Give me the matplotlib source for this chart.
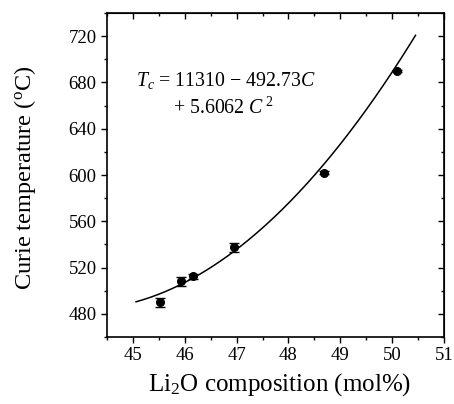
import numpy as np
import matplotlib
matplotlib.use('Agg')
import matplotlib.pyplot as plt
from matplotlib.ticker import MultipleLocator

plt.rcParams['font.family'] = 'Liberation Serif'
plt.rcParams['mathtext.fontset'] = 'custom'
plt.rcParams['mathtext.rm'] = 'Liberation Serif'
plt.rcParams['mathtext.it'] = 'Liberation Serif:italic'

# dados medidos
composicao = [45.52, 45.92, 46.16, 46.95, 48.68, 50.1]
temperatura = [490, 508, 512.5, 537.5, 602, 690]
erro = [4, 4, 2, 4, 1.5, 1]

# coeficientes do ajuste
coef = [11310, -492.73, 5.6062]
c_min, c_max = 45.06, 50.45

fig = plt.figure(figsize=(4.54, 4.04), dpi=100)
ax = fig.add_axes([0.2357, 0.1658, 0.978 - 0.2357, 0.9678 - 0.1658])

c = np.linspace(c_min, c_max, 200)
tc = coef[0] + coef[1] * c + coef[2] * c ** 2
ax.plot(c, tc, color='black', lw=1.1)

ax.errorbar(composicao, temperatura, yerr=erro, fmt='o', color='black',
            ms=5.5, capsize=3.5, elinewidth=1, capthick=1)

ax.set_xlim(44.5, 51)
ax.set_ylim(460, 740)
ax.xaxis.set_major_locator(MultipleLocator(1))
ax.xaxis.set_minor_locator(MultipleLocator(0.5))
ax.yaxis.set_major_locator(MultipleLocator(40))
ax.yaxis.set_minor_locator(MultipleLocator(20))
ax.tick_params(which='both', direction='out', labelsize=13.5)
ax.tick_params(which='major', length=4, width=1)
ax.tick_params(which='minor', length=2.5, width=1)

# ticks internos no topo e na direita
ax2 = ax.secondary_xaxis('top')
ax2.xaxis.set_major_locator(MultipleLocator(1))
ax2.xaxis.set_minor_locator(MultipleLocator(0.5))
ax2.tick_params(which='both', direction='in', labeltop=False)
ax2.tick_params(which='major', length=4, width=1)
ax2.tick_params(which='minor', length=2.5, width=1)
ax3 = ax.secondary_yaxis('right')
ax3.yaxis.set_major_locator(MultipleLocator(40))
ax3.yaxis.set_minor_locator(MultipleLocator(20))
ax3.tick_params(which='both', direction='in', labelright=False)
ax3.tick_params(which='major', length=4, width=1)
ax3.tick_params(which='minor', length=2.5, width=1)

for s in ax.spines.values():
    s.set_linewidth(1.2)

ax.set_xlabel('Li$_2$O composition (mol%)', fontsize=18)
ax.set_ylabel('Curie temperature ($^{\\rm o}$C)', fontsize=17.5)
ax.xaxis.set_label_coords(0.513, -0.105)
ax.yaxis.set_label_coords(-0.205, 0.49)

ax.text(0.085, 0.775, '$T_c$ = 11310 − 492.73$C$', transform=ax.transAxes,
        fontsize=14.3)
ax.text(0.195, 0.69, '+ 5.6062 $C^{\\,2}$', transform=ax.transAxes,
        fontsize=14.3)

fig.savefig('out.png', dpi=100)
